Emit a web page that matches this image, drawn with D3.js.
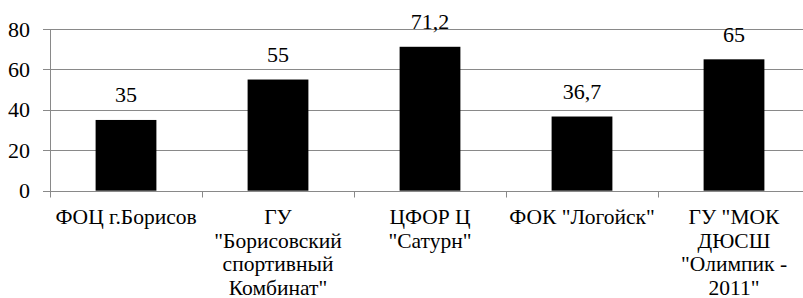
<!DOCTYPE html>
<html>
<head>
<meta charset="utf-8">
<script src="https://cdn.jsdelivr.net/npm/d3@7"></script>
<style>
  body { margin: 0; background: #fff; }
</style>
</head>
<body>
<div id="chart"></div>
<script>
const categories = [
  ['ФОЦ г.Борисов'],
  ['ГУ', '"Борисовский', 'спортивный', 'Комбинат"'],
  ['ЦФОР Ц', '"Сатурн"'],
  ['ФОК "Логойск"'],
  ['ГУ "МОК', 'ДЮСШ', '"Олимпик -', '2011"']
];
const values = [35, 55, 71.2, 36.7, 65];
const valueLabels = ['35', '55', '71,2', '36,7', '65'];
const yTicks = [0, 20, 40, 60, 80];

const dim = { width: 803, height: 298, left: 50, right: 810, top: 29, bottom: 190.7 };
const serif = "'Liberation Serif'";

const svg = d3.select('#chart').append('svg')
  .attr('width', dim.width)
  .attr('height', dim.height);

const keys = categories.map((c, i) => i);

const xCat = d3.scaleBand()
  .domain(keys)
  .range([dim.left, dim.right]);

const xBar = d3.scaleBand()
  .domain(keys)
  .range([dim.left, dim.right])
  .paddingInner(0.6)
  .paddingOuter(0.3);

const y = d3.scaleLinear()
  .domain([0, 80])
  .range([dim.bottom, dim.top]);

const grid = '#898989';

// horizontal gridlines
svg.append('g')
  .selectAll('line')
  .data(yTicks)
  .join('line')
  .attr('x1', dim.left - 7)
  .attr('x2', dim.width)
  .attr('y1', d => Math.round(y(d)) + 0.5)
  .attr('y2', d => Math.round(y(d)) + 0.5)
  .attr('stroke', grid)
  .attr('stroke-width', 1);

// y tick labels
svg.append('g')
  .selectAll('text')
  .data(yTicks)
  .join('text')
  .attr('x', 30)
  .attr('y', d => y(d) + 7.5)
  .attr('text-anchor', 'end')
  .style('font-family', serif)
  .style('font-size', '22px')
  .text(d => d);

// y axis line
svg.append('line')
  .attr('x1', dim.left + 0.5).attr('x2', dim.left + 0.5)
  .attr('y1', dim.top).attr('y2', Math.round(dim.bottom) + 0.5)
  .attr('stroke', grid);

// x category ticks
svg.append('g')
  .selectAll('line')
  .data(keys.concat([keys.length]))
  .join('line')
  .attr('x1', d => Math.round(dim.left + d * xCat.step()) + 0.5)
  .attr('x2', d => Math.round(dim.left + d * xCat.step()) + 0.5)
  .attr('y1', Math.round(dim.bottom) + 0.5)
  .attr('y2', Math.round(dim.bottom) + 6.5)
  .attr('stroke', grid);

// bars
svg.append('g')
  .selectAll('rect')
  .data(values)
  .join('rect')
  .attr('x', (d, i) => xBar(i))
  .attr('y', d => y(d))
  .attr('width', xBar.bandwidth())
  .attr('height', d => y(0) - y(d))
  .attr('fill', '#000');

// value labels
svg.append('g')
  .selectAll('text')
  .data(values)
  .join('text')
  .attr('x', (d, i) => xCat(i) + xCat.bandwidth() / 2)
  .attr('y', d => y(d) - 17.5)
  .attr('text-anchor', 'middle')
  .style('font-family', serif)
  .style('font-size', '22px')
  .text((d, i) => valueLabels[i]);

// category labels
const catG = svg.append('g')
  .selectAll('text')
  .data(categories)
  .join('text')
  .attr('x', (d, i) => xCat(i) + xCat.bandwidth() / 2)
  .attr('y', 224)
  .attr('text-anchor', 'middle')
  .style('font-family', serif)
  .style('font-size', '21.5px');

catG.selectAll('tspan')
  .data(d => d)
  .join('tspan')
  .attr('x', function () { return d3.select(this.parentNode).attr('x'); })
  .attr('dy', (d, i) => i === 0 ? 0 : 23.5)
  .text(d => d);
</script>
</body>
</html>
